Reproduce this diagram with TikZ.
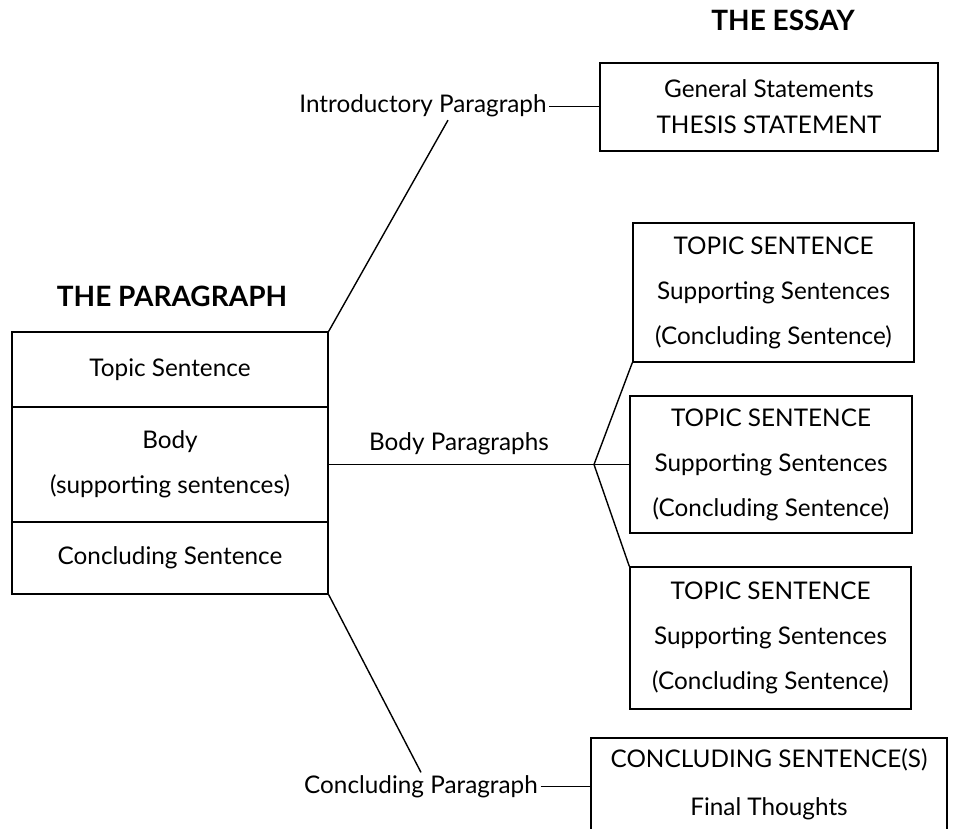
\documentclass[tikz,border=0pt]{standalone}
\usepackage{fontspec}
\setmainfont{Lato}
\usepackage{tikz}
\usetikzlibrary{calc, positioning}

\begin{document}
\begin{tikzpicture}[x=1pt, y=-1pt, line width=1.4pt,
        lbl/.style={font=\fontsize{24.3}{28}\selectfont, inner sep=2pt},
        boxed/.style={draw, align=center, inner sep=0pt, font=\fontsize{24.3}{45}\selectfont},
        heading/.style={font=\bfseries\fontsize{28}{32}\selectfont}]
                \clip (0,0) rectangle (956,829);

                % 1. Tiêu đề
                \node[heading] (essay) at (783,20) {THE ESSAY};
                \node[heading] (para) at (172,296) {THE PARAGRAPH};

                % 2. Khung đoạn văn bên trái
                \node[boxed, minimum width=316, minimum height=75] (ptopic) at (170,369.5) {Topic Sentence};
                \node[boxed, minimum width=316, minimum height=115] (pbody) at (170,464.5) {Body\\(supporting sentences)};
                \node[boxed, minimum width=316, minimum height=72] (pconcl) at (170,558) {Concluding Sentence};

                % 3. Các khung bài luận bên phải
                \node[boxed, font=\fontsize{24.3}{36}\selectfont, minimum width=338, minimum height=88] (ebox) at (769,107) {General Statements\\THESIS STATEMENT};
                \node[boxed, minimum width=281, minimum height=139] (tbox1) at (773.5,292.5) {TOPIC SENTENCE\\Supporting Sentences\\(Concluding Sentence)};
                \node[boxed, minimum width=282, minimum height=137] (tbox2) at (771,464.5) {TOPIC SENTENCE\\Supporting Sentences\\(Concluding Sentence)};
                \node[boxed, minimum width=281, minimum height=142] (tbox3) at (770.5,638) {TOPIC SENTENCE\\Supporting Sentences\\(Concluding Sentence)};
                \node[boxed, font=\fontsize{24.3}{48}\selectfont, minimum width=356, minimum height=92] (cbox) at (769,784) {CONCLUDING SENTENCE(S)\\Final Thoughts};

                % 4. Nhãn và đường nối
                \node[lbl, anchor=base] (intro) at (423,113) {Introductory Paragraph};
                \node[lbl, anchor=base] (bodylbl) at (459,450) {Body Paragraphs};
                \node[lbl, anchor=base] (concl) at (421,793) {Concluding Paragraph};
                \coordinate (fork) at (594,464.5);

                \draw (ptopic.north east) -- ([xshift=25pt]intro.south);
                \draw (intro.east) -- (intro.east -| ebox.west);
                \draw (pbody.east) -- (fork) -- (tbox2.west);
                \draw (tbox1.south west) -- (fork) -- (tbox3.north west);
                \draw (pconcl.south east) -- (concl.north);
                \draw (concl.east) -- (concl.east -| cbox.west);
            \end{tikzpicture}
\end{document}
